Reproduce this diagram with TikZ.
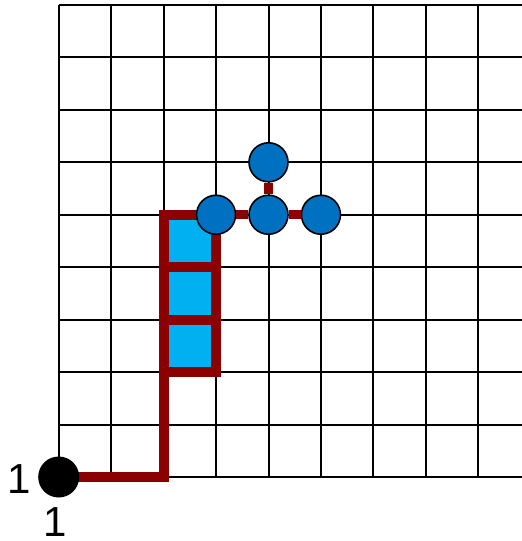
\documentclass[tikz,border=0pt]{standalone}
\usepackage{fontspec}
\setmainfont{Liberation Sans}
\definecolor{pathred}{RGB}{139,0,0}
\definecolor{cellblue}{RGB}{0,176,240}
\definecolor{ballblue}{RGB}{0,112,192}
\tikzset{
  gridline/.style={line width=2pt, black},
  redline/.style={line width=10pt, pathred, line join=miter},
  ball/.style={circle, draw=black, line width=1.6pt, fill=ballblue, minimum size=39pt, inner sep=0pt},
  origindot/.style={circle, fill=black, minimum size=41pt, inner sep=0pt},
  numlabel/.style={font=\fontsize{42}{42}\selectfont, inner sep=0pt}
}
\begin{document}
\begin{tikzpicture}[x=52.45pt, y=52.45pt]
\useasboundingbox (-1.119,-1.220) rectangle (8.814,9.094);
% grid
\foreach \i in {0,...,8} \draw[gridline] (\i,0) -- (\i,9);
\foreach \j in {0,...,9} \draw[gridline] (0,\j) -- (8.9,\j);
% blue cells
\fill[cellblue] (2,2) rectangle (3,5);
% path coordinates
\coordinate (p0) at (0,0);
\coordinate (p1) at (2,0);
\coordinate (p2) at (2,5);
\coordinate (r1) at (2,2);
\coordinate (r3) at (2,3);
\coordinate (r4) at (3,3);
\coordinate (r5) at (2,4);
\coordinate (r6) at (3,4);
% red path
\draw[redline] (p0) -- (p1) -- (p2);
\draw[redline] (r1) rectangle (3,5);
\draw[redline] (r3) -- (r4);
\draw[redline] (r5) -- (r6);
% balls
\node[ball] (b1) at (3,5) {};
\node[ball] (b2) at (4,5) {};
\node[ball] (b3) at (5,5) {};
\node[ball] (b4) at (4,6) {};
\draw[redline, line width=9pt] (b1) -- (b2);
\draw[redline, line width=9pt] (b2) -- (b3);
\draw[redline, line width=9pt] (b2) -- (b4);
% origin
\node[origindot] (o) at (p0) {};
\node[numlabel] (lx) at (-0.744,-0.03) {1};
\node[numlabel] (ly) at (-0.07,-0.86) {1};
\end{tikzpicture}
\end{document}
